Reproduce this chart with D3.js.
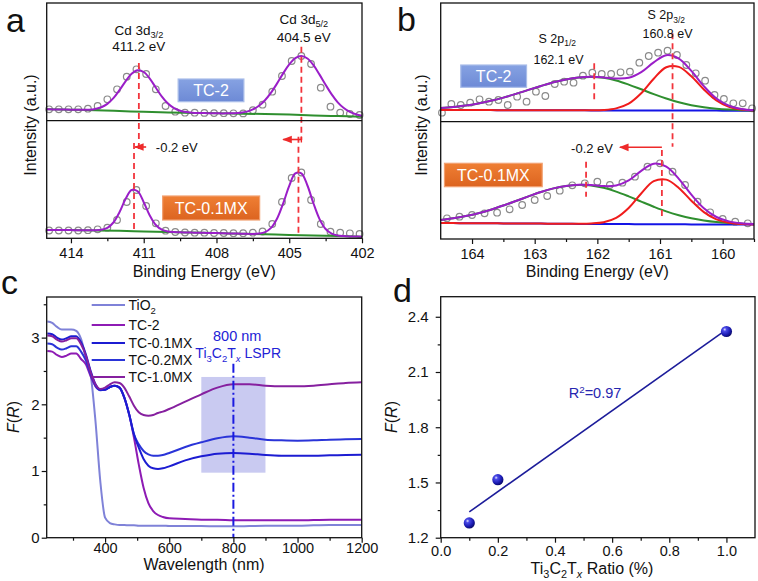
<!DOCTYPE html>
<html><head><meta charset="utf-8">
<script src="https://cdn.jsdelivr.net/npm/d3@7"></script>
<style>
body{margin:0;background:#fff}
svg{display:block}
text{font-family:"Liberation Sans",Arial,Helvetica,sans-serif}
</style>
</head><body>
<svg id="fig" width="758" height="581"></svg>
<script>
// ---------------- DATA ----------------
// Panel a : Cd 3d XPS (binding energy, eV ; intensity a.u.)
const aGridX = [415,414.75,414.5,414.25,414,413.75,413.5,413.25,413,412.75,412.5,412.25,412,411.75,411.5,411.25,411,410.75,410.5,410.25,410,409.75,409.5,409.25,409,408.75,408.5,408.25,408,407.75,407.5,407.25,407,406.75,406.5,406.25,406,405.75,405.5,405.25,405,404.75,404.5,404.25,404,403.75,403.5,403.25,403,402.75,402.5,402.25,402];
const aFitTC2 = [11.4,11.3,11.2,11.1,11.0,10.9,10.9,11.0,11.8,13.4,16.8,22.5,30.5,39.4,46.9,50.5,48.7,42.1,33.0,24.1,17.1,12.5,9.9,8.6,8.0,7.7,7.6,7.5,7.4,7.3,7.4,7.5,8.0,9.1,11.3,14.9,20.5,28.1,37.3,47.3,56.3,62.6,64.7,62.2,55.5,46.1,35.9,26.3,18.4,12.7,8.8,6.4,5.0];
const aFitMX = [8.0,8.0,8.0,7.9,7.9,7.8,7.8,7.7,7.7,8.2,10.1,15.5,25.8,38.9,48.0,46.7,35.8,22.6,13.0,8.3,6.5,6.0,5.7,5.55,5.4,5.3,5.15,5.0,4.9,4.75,4.6,4.45,4.3,4.2,4.05,4.5,5.9,10.1,19.5,34.6,52.2,64.6,64.7,52.5,34.5,18.9,9.0,4.4,2.5,1.9,1.6,1.45,1.3];
const aBgX = [415,414,413,412,411,410,409,408,407,406,405,404,403,402];
const aBgTC2 = [11.4,11.0,10.5,9.7,8.9,8.3,7.8,7.4,7.0,6.7,6.1,5.3,4.6,4.0];
const aBgMX = [8.0,7.9,7.6,7.2,6.6,6.0,5.4,4.9,4.3,3.8,3.1,2.5,1.9,1.3];
const aRawX = [414.9,414.5,414.1,413.7,413.3,412.9,412.5,412.1,411.7,411.3,410.9,410.5,410.1,409.7,409.3,408.9,408.5,408.1,407.7,407.3,406.9,406.5,406.1,405.7,405.3,404.9,404.5,404.1,403.7,403.3,402.9,402.5,402.1];
const aRawTC2 = [11.4,11.4,11.4,11.4,12.0,14.7,21.4,31.4,44.0,51.4,46.7,31.4,14.7,9.0,8.0,8.0,7.8,7.6,7.5,7.4,7.3,10.5,16.0,29.0,44.7,59.7,64.7,56.7,33.0,14.0,8.0,6.7,5.7];
const aRawMX = [7.5,7.5,7.5,7.5,7.8,8.7,10.3,18,36,48,32,14.7,7.3,6.0,5.5,5.3,5.3,5.0,5.0,4.8,4.8,5.3,6.5,14,36,60,65.5,38,14,6.3,5.3,4.7,4.0];
const aTicks = [414,411,408,405,402];
const aMinor = [412.5,409.5,406.5,403.5];

// Panel b : S 2p XPS
const bGridX = [164.5,164.3,164.1,163.9,163.7,163.5,163.3,163.1,162.9,162.7,162.5,162.3,162.1,161.9,161.7,161.5,161.3,161.1,160.9,160.7,160.5,160.3,160.1,159.9,159.7,159.5];
const bBgTC2 = [11.7,11.7,11.6,11.6,11.6,11.5,11.5,11.5,11.4,11.4,11.4,11.4,11.3,11.3,11.3,11.2,11.2,11.2,11.2,11.1,11.1,11.1,11.1,11.0,11.0,11.0];
const bP12TC2 = [1.9,3.0,4.5,6.6,9.3,12.6,16.3,20.3,24.3,28.0,30.9,32.8,33.5,32.6,29.9,25.9,21.2,16.4,12.0,8.3,5.4,3.3,1.9,1.1,0.5,0.3];
const bP32TC2 = [0,0,0,0,0,0,0,0,0,0,0,0,0.1,0.4,2.0,6.8,17.2,31.8,43.3,43.7,34.3,21.1,10.2,3.9,1.2,0.3];
const bBgMX = [16.0,15.9,15.8,15.7,15.7,15.6,15.5,15.4,15.4,15.3,15.2,15.1,15.1,15.0,14.9,14.9,14.8,14.8,14.7,14.7,14.6,14.6,14.5,14.5,14.5,14.5];
const bP12MX = [3.1,4.8,7.1,10.0,13.6,17.9,22.5,27.2,31.6,35.3,37.8,39.0,38.5,36.2,32.5,27.7,22.6,17.5,12.9,9.1,6.1,3.9,2.4,1.4,0.8,0.4];
const bP32MX = [0,0,0,0,0,0,0,0,0,0,0,0.1,0.4,1.7,6.2,16.1,30.7,43.0,44.7,36.4,23.7,12.3,5.1,1.7,0.4,0.1];
const bRawXTC2 = [164.48,164.33,164.18,164.03,163.88,163.73,163.58,163.43,163.28,163.13,162.98,162.83,162.68,162.53,162.38,162.23,162.08,161.93,161.78,161.63,161.48,161.33,161.18,161.03,160.88,160.73,160.58,160.43,160.28,160.13,159.98,159.83,159.68,159.53];
const bRawTC2 = [9.0,17.7,16.7,19.0,22.4,20.0,21.7,16.7,25.0,20.0,30.0,25.7,37.7,40.0,39.0,46.0,49.0,47.7,47.7,49.4,50.0,59.0,65.7,69.0,71.0,66.7,56.7,48.4,41.0,26.7,22.7,18.4,18.4,13.4];
const bRawXMX = [164.4,164.2,164.0,163.8,163.6,163.4,163.2,163.0,162.8,162.6,162.4,162.2,162.0,161.8,161.6,161.4,161.2,161.0,160.8,160.6,160.4,160.2,160.0,159.8,159.6];
const bRawMX = [20.7,22.3,24,25.7,26.3,29.7,34,39,43,48.3,53.7,55.7,57.3,54,56.3,62.3,72.3,75.7,67.3,54,37.3,26.7,20,17.3,15.7];
const bTicks = [164,163,162,161,160];
const bMinor = [163.5,162.5,161.5,160.5,159.5];

// Panel c : Kubelka-Munk F(R) vs wavelength
const cWave = [220,235,250,265,280,295,310,325,340,355,370,385,400,415,430,445,460,475,490,505,520,535,550,565,580,600,650,700,750,800,850,900,950,1000,1050,1100,1150,1200];
const cTiO2 = [3.24,3.22,3.16,3.12,3.12,3.12,3.10,2.98,2.70,2.45,1.75,0.85,0.30,0.22,0.20,0.19,0.19,0.185,0.185,0.18,0.18,0.18,0.18,0.18,0.18,0.175,0.175,0.175,0.17,0.17,0.175,0.18,0.18,0.18,0.185,0.19,0.19,0.19];
const cTC2 = [2.80,2.79,2.74,2.71,2.73,2.76,2.76,2.68,2.60,2.42,2.27,2.22,2.22,2.26,2.28,2.25,2.10,1.85,1.50,1.10,0.75,0.52,0.40,0.34,0.31,0.29,0.28,0.27,0.27,0.26,0.26,0.26,0.26,0.26,0.265,0.27,0.27,0.27];
const cTC01 = [3.06,3.05,3.00,2.97,2.99,3.02,3.02,2.93,2.75,2.50,2.30,2.22,2.22,2.26,2.28,2.25,2.10,1.85,1.55,1.35,1.18,1.08,1.04,1.03,1.04,1.07,1.16,1.22,1.26,1.27,1.26,1.24,1.23,1.23,1.23,1.235,1.24,1.245];
const cTC02 = [2.91,2.90,2.85,2.82,2.84,2.87,2.87,2.79,2.66,2.45,2.28,2.21,2.22,2.26,2.28,2.25,2.10,1.85,1.55,1.40,1.30,1.25,1.23,1.23,1.24,1.27,1.36,1.43,1.49,1.52,1.50,1.47,1.46,1.455,1.46,1.47,1.475,1.48];
const cTC10 = [3.03,3.02,2.97,2.94,2.96,2.99,2.99,2.90,2.73,2.48,2.30,2.23,2.25,2.30,2.33,2.32,2.25,2.12,1.98,1.88,1.84,1.83,1.84,1.87,1.89,1.93,2.04,2.15,2.25,2.30,2.30,2.28,2.27,2.27,2.28,2.30,2.32,2.33];
const cNames = ["TiO2","TC-2","TC-0.1MX","TC-0.2MX","TC-1.0MX"];
const cColors = ["#7f82d8","#8e1bb4","#1c1cd2","#2a34d8","#86209f"];
const cXTicks = [400,600,800,1000,1200];
const cXMinor = [300,500,700,900,1100];
const cYTicks = [0,1,2,3];
const cYMinor = [0.5,1.5,2.5,3.5];
const cLSPR = [700,900];      // highlighted band (nm)
const cLSPRF = [0.975,2.41];  // band F(R) range
const cLSPRpeak = 800;

// Panel d : F(R) at 800 nm vs Ti3C2Tx ratio
const dRatio = [0.1,0.2,1.0];
const dFR = [1.28,1.515,2.32];
const dFitX = [0.1,1.0];
const dFitY = [1.34,2.33];
const dXTicks = [0,0.2,0.4,0.6,0.8,1.0];
const dXMinor = [0.1,0.3,0.5,0.7,0.9];
const dYTicks = [1.2,1.5,1.8,2.1,2.4];
const dYMinor = [1.35,1.65,1.95,2.25];

// ---------------- HELPERS ----------------
const svg = d3.select("#fig");
const defs = svg.append("defs");

function rich(sel, x, y, parts, fs, anchor, fill){
  const t = sel.append("text").attr("x",x).attr("y",y).attr("font-size",fs)
    .attr("text-anchor",anchor||"start").attr("fill",fill||"#111");
  let shift = 0;
  parts.forEach(p=>{
    const s = Array.isArray(p)?p[0]:p, k = Array.isArray(p)?p[1]:"";
    const ts = t.append("tspan").text(s);
    let target=0, size=fs;
    if(k==="sub"||k==="subi"){target=fs*0.28; size=fs*0.68;}
    if(k==="sup"){target=-fs*0.38; size=fs*0.68;}
    ts.attr("dy",(target-shift).toFixed(2)).attr("font-size",size);
    if(k==="i"||k==="subi") ts.attr("font-style","italic");
    shift=target;
  });
  return t;
}
function xAxis(g, scale, y, majors, minors, fmt, pad, fs){
  const ax = g.append("g").attr("transform",`translate(0,${y})`)
    .call(d3.axisBottom(scale).tickValues(majors).tickSize(5).tickPadding(pad).tickFormat(fmt));
  ax.select(".domain").remove();
  ax.selectAll("line").attr("stroke","#111").attr("stroke-width",1.2);
  ax.selectAll("text").attr("font-size",fs).attr("fill","#111").attr("font-family",null);
  const mi = g.append("g").attr("transform",`translate(0,${y})`)
    .call(d3.axisBottom(scale).tickValues(minors).tickSize(3).tickFormat(""));
  mi.select(".domain").remove();
  mi.selectAll("line").attr("stroke","#111").attr("stroke-width",1.2);
}
function yAxis(g, scale, x, majors, minors, fmt, pad, fs){
  const ax = g.append("g").attr("transform",`translate(${x},0)`)
    .call(d3.axisLeft(scale).tickValues(majors).tickSize(5).tickPadding(pad).tickFormat(fmt));
  ax.select(".domain").remove();
  ax.selectAll("line").attr("stroke","#111").attr("stroke-width",1.2);
  ax.selectAll("text").attr("font-size",fs).attr("fill","#111").attr("font-family",null);
  const mi = g.append("g").attr("transform",`translate(${x},0)`)
    .call(d3.axisLeft(scale).tickValues(minors).tickSize(3).tickFormat(""));
  mi.select(".domain").remove();
  mi.selectAll("line").attr("stroke","#111").attr("stroke-width",1.2);
}
function frame(g, x0, x1, y0, y1){
  g.append("rect").attr("x",x0).attr("y",y0).attr("width",x1-x0).attr("height",y1-y0)
    .attr("fill","none").attr("stroke","#111").attr("stroke-width",1.3);
}
function vtitle(g, x, y, parts, fs){
  const t = rich(g, 0, 0, parts, fs, "middle", "#111");
  t.attr("transform",`translate(${x},${y}) rotate(-90)`);
}
function panelLabel(x,y,s){
  svg.append("text").attr("x",x).attr("y",y).attr("font-size",34).attr("fill","#111").text(s);
}
function labelBox(g, x0, x1, y0, y1, text, grad, stroke){
  g.append("rect").attr("x",x0).attr("y",y1).attr("width",x1-x0).attr("height",y0-y1)
    .attr("fill",`url(#${grad})`).attr("stroke",stroke).attr("stroke-width",1.2);
  g.append("text").attr("x",(x0+x1)/2).attr("y",(y0+y1)/2+5.5).attr("text-anchor","middle")
    .attr("font-size",16).attr("fill","#fff").text(text);
}
// gradients
const gB = defs.append("linearGradient").attr("id","boxBlue").attr("x1",0).attr("y1",0).attr("x2",0).attr("y2",1);
gB.append("stop").attr("offset","0%").attr("stop-color","#86a2e2");
gB.append("stop").attr("offset","100%").attr("stop-color","#6d8ad6");
const gO = defs.append("linearGradient").attr("id","boxOrange").attr("x1",0).attr("y1",0).attr("x2",0).attr("y2",1);
gO.append("stop").attr("offset","0%").attr("stop-color","#ef7f34");
gO.append("stop").attr("offset","100%").attr("stop-color","#dc6420");
const gBall = defs.append("radialGradient").attr("id","ball").attr("cx","35%").attr("cy","32%").attr("r","70%");
gBall.append("stop").attr("offset","0%").attr("stop-color","#e8e8ff");
gBall.append("stop").attr("offset","22%").attr("stop-color","#4a4ae8");
gBall.append("stop").attr("offset","70%").attr("stop-color","#1a1ab0");
gBall.append("stop").attr("offset","100%").attr("stop-color","#0a0a6a");
defs.append("marker").attr("id","arrR").attr("viewBox","0 0 10 10").attr("refX",9).attr("refY",5)
  .attr("markerWidth",6).attr("markerHeight",6).attr("orient","auto")
  .append("path").attr("d","M0,1 L10,5 L0,9 z").attr("fill","#ee2a2a");

const PURPLE="#9a1ec8", GREEN="#2f8f2f", RED="#f01c1c", BLUE="#1414e6", DASH="#f2343c", CIRC="#8a8a8a";

// ---------------- PANEL A ----------------
const ga = svg.append("g");
const ax = d3.scaleLinear().domain([415,402]).range([46.7,362]);
const ayU = d3.scaleLinear().domain([0,117.7]).range([120.7,3]);
const ayL = d3.scaleLinear().domain([0,117.3]).range([238,120.7]);

function xpsPanel(g, xs, ys, rawX, rawY, lines){
  g.append("g").selectAll("circle").data(rawX).join("circle")
    .attr("cx",d=>xs(d)).attr("cy",(d,i)=>ys(rawY[i])).attr("r",3.3)
    .attr("fill","none").attr("stroke",CIRC).attr("stroke-width",1.2);
  lines.forEach(L=>{
    const ln = d3.line().x((d,i)=>xs(L.x[i])).y(d=>ys(d)).curve(d3.curveCatmullRom.alpha(0.5));
    g.append("path").attr("d",ln(L.y)).attr("fill","none").attr("stroke",L.c).attr("stroke-width",L.w||2);
  });
}
xpsPanel(ga, ax, ayU, aRawX, aRawTC2, [
  {x:aBgX, y:aBgTC2, c:GREEN},
  {x:aGridX, y:aFitTC2, c:PURPLE}
]);
xpsPanel(ga, ax, ayL, aRawX, aRawMX, [
  {x:aBgX, y:aBgMX, c:GREEN},
  {x:aGridX, y:aFitMX, c:PURPLE}
]);
// dashed peak markers
function dashV(g, x, y0, y1){
  g.append("line").attr("x1",x).attr("x2",x).attr("y1",y0).attr("y2",y1)
    .attr("stroke",DASH).attr("stroke-width",1.8).attr("stroke-dasharray","6,4");
}
dashV(ga, ax(411.2), ayU(57.7), ayL(89));
dashV(ga, ax(411.4), ayL(95), ayL(5));
dashV(ga, ax(404.5), ayU(74), ayL(98));
dashV(ga, ax(404.62), ayL(101.3), ayL(3));
ga.append("line").attr("x1",ax(410.9)).attr("x2",ax(411.4)+1).attr("y1",ayL(91)).attr("y2",ayL(91))
  .attr("stroke","#ee2a2a").attr("stroke-width",1.6).attr("marker-end","url(#arrR)");
ga.append("line").attr("x1",ax(404.5)).attr("x2",ax(405.25)).attr("y1",ayL(98.5)).attr("y2",ayL(98.5))
  .attr("stroke","#ee2a2a").attr("stroke-width",1.6).attr("marker-end","url(#arrR)");
ga.append("line").attr("x1",ax(404.5)).attr("x2",ax(404.5)).attr("y1",ayL(95.5)).attr("y2",ayL(101.5))
  .attr("stroke","#ee2a2a").attr("stroke-width",1.4);
rich(ga, ax(410.5), ayL(86.5), ["-0.2 eV"], 13, "start", "#111");
rich(ga, ax(411.2), ayU(86.2), ["Cd 3d",["3/2","sub"]], 13.5, "middle", "#111");
rich(ga, ax(411.2), ayU(69.7), ["411.2 eV"], 13.5, "middle", "#111");
rich(ga, ax(404.4), ayU(97.2), ["Cd 3d",["5/2","sub"]], 13.5, "middle", "#111");
rich(ga, ax(404.4), ayU(78.5), ["404.5 eV"], 13.5, "middle", "#111");
labelBox(ga, ax(409.58), ax(406.87), ayU(19), ayU(41.7), "TC-2", "boxBlue", "#a9bde9");
labelBox(ga, ax(410.22), ax(406.22), ayL(18), ayL(42), "TC-0.1MX", "boxOrange", "#f2a070");
ga.append("line").attr("x1",46.7).attr("x2",362).attr("y1",ayU(0)).attr("y2",ayU(0)).attr("stroke","#111").attr("stroke-width",1.3);
frame(ga, 46.7, 362, 3, 238.3);
xAxis(ga, ax, 238.3, aTicks, aMinor, d3.format("d"), 4.6, 14.5);
rich(ga, (46.7+362)/2, 276.5, ["Binding Energy (eV)"], 16, "middle", "#111");
vtitle(ga, 36, 125, ["Intensity (a.u.)"], 16);
panelLabel(6, 31.5, "a");

// ---------------- PANEL B ----------------
const gb = svg.append("g");
const bx = d3.scaleLinear().domain([164.5,159.5]).range([440.7,754]);
const byU = d3.scaleLinear().domain([0,118.7]).range([121.7,3]);
const byL = d3.scaleLinear().domain([0,117.3]).range([239,121.7]);
function sum(){ const arrs=[...arguments]; return arrs[0].map((v,i)=>arrs.reduce((s,a)=>s+a[i],0)); }
xpsPanel(gb, bx, byU, bRawXTC2, bRawTC2, [
  {x:bGridX, y:bBgTC2, c:BLUE},
  {x:bGridX, y:sum(bBgTC2,bP12TC2), c:GREEN},
  {x:bGridX, y:sum(bBgTC2,bP32TC2), c:RED},
  {x:bGridX, y:sum(bBgTC2,bP12TC2,bP32TC2), c:PURPLE}
]);
xpsPanel(gb, bx, byL, bRawXMX, bRawMX, [
  {x:bGridX, y:bBgMX, c:BLUE},
  {x:bGridX, y:sum(bBgMX,bP12MX), c:GREEN},
  {x:bGridX, y:sum(bBgMX,bP32MX), c:RED},
  {x:bGridX, y:sum(bBgMX,bP12MX,bP32MX), c:PURPLE}
]);
dashV(gb, bx(162.05), byU(58.4), byU(21.7));
dashV(gb, bx(160.8), byU(88.4), byL(92.3));
dashV(gb, bx(162.18), byL(77.3), byL(42.3));
dashV(gb, bx(160.97), byL(89), byL(22.3));
gb.append("line").attr("x1",bx(160.97)).attr("x2",bx(161.64)).attr("y1",byL(91.7)).attr("y2",byL(91.7))
  .attr("stroke","#ee2a2a").attr("stroke-width",1.6).attr("marker-end","url(#arrR)");
rich(gb, bx(161.75), byL(86.5), ["-0.2 eV"], 13, "end", "#111");
rich(gb, bx(160.9), byU(102.5), ["S 2p",["3/2","sub"]], 12.5, "middle", "#111");
rich(gb, bx(160.88), byU(84.2), ["160.8 eV"], 12.5, "middle", "#111");
rich(gb, bx(162.64), byU(79.2), ["S 2p",["1/2","sub"]], 12.5, "middle", "#111");
rich(gb, bx(162.62), byU(58.2), ["162.1 eV"], 12.5, "middle", "#111");
labelBox(gb, bx(164.18), bx(163.13), byU(34.4), byU(56.7), "TC-2", "boxBlue", "#a9bde9");
labelBox(gb, bx(164.44), bx(162.88), byL(52.3), byL(75.7), "TC-0.1MX", "boxOrange", "#f2a070");
gb.append("line").attr("x1",440.7).attr("x2",754).attr("y1",byU(0)).attr("y2",byU(0)).attr("stroke","#111").attr("stroke-width",1.3);
frame(gb, 440.7, 754, 3, 239);
xAxis(gb, bx, 239, bTicks, bMinor, d3.format("d"), 4.6, 14.5);
rich(gb, (440.7+754)/2, 277, ["Binding Energy (eV)"], 16, "middle", "#111");
vtitle(gb, 427, 125, ["Intensity (a.u.)"], 16);
panelLabel(397, 31, "b");

// ---------------- PANEL C ----------------
const gc = svg.append("g");
const cx = d3.scaleLinear().domain([218,1200]).range([46.7,361.7]);
const cy = d3.scaleLinear().domain([0,3.609]).range([537.7,297]);
gc.append("rect").attr("x",cx(cLSPR[0])).attr("y",cy(cLSPRF[1])).attr("width",cx(cLSPR[1])-cx(cLSPR[0]))
  .attr("height",cy(cLSPRF[0])-cy(cLSPRF[1])).attr("fill","#c9caf1");
const cSeries = [cTiO2,cTC2,cTC01,cTC02,cTC10];
const cLine = d3.line().x((d,i)=>cx(cWave[i])).y(d=>cy(d)).curve(d3.curveMonotoneX);
const cOrder = [0,1,3,2,4];
cOrder.forEach(k=>{
  gc.append("path").attr("d",cLine(cSeries[k])).attr("fill","none").attr("stroke",cColors[k]).attr("stroke-width",2);
});
gc.append("line").attr("x1",cx(cLSPRpeak)).attr("x2",cx(cLSPRpeak)).attr("y1",cy(2.61)).attr("y2",cy(0))
  .attr("stroke","#1a1ae0").attr("stroke-width",2).attr("stroke-dasharray","9,3,2,3");
rich(gc, cx(812), cy(2.95), ["800 nm"], 14.5, "middle", "#2222d6");
rich(gc, cx(815), cy(2.69), ["Ti",["3","sub"],"C",["2","sub"],"T",["x","subi"]," LSPR"], 14, "middle", "#2222d6");
// legend
const legY = [305,325,343,360,377];
cNames.forEach((n,i)=>{
  gc.append("line").attr("x1",91.7).attr("x2",125).attr("y1",legY[i]).attr("y2",legY[i])
    .attr("stroke",cColors[i]).attr("stroke-width",2);
  const parts = n==="TiO2" ? ["TiO",["2","sub"]] : [n];
  rich(gc, 128.5, legY[i]+5, parts, 14, "start", "#111");
});
frame(gc, 46.7, 361.7, 297, 537.7);
xAxis(gc, cx, 537.7, cXTicks, cXMinor, d3.format("d"), 0, 14.5);
yAxis(gc, cy, 46.7, cYTicks, cYMinor, d3.format("d"), 2, 15);
rich(gc, 204, 570, ["Wavelength (nm)"], 16, "middle", "#111");
vtitle(gc, 19, 417, [["F","i"],"(",["R","i"],")"], 16);
panelLabel(1, 294, "c");

// ---------------- PANEL D ----------------
const gd = svg.append("g");
const dx = d3.scaleLinear().domain([0,1.1]).range([440.7,755]);
const dy = d3.scaleLinear().domain([1.2,2.509]).range([537.7,296.7]);
gd.append("line").attr("x1",dx(dFitX[0])).attr("y1",dy(dFitY[0])).attr("x2",dx(dFitX[1])).attr("y2",dy(dFitY[1]))
  .attr("stroke","#1c1c9a").attr("stroke-width",1.6);
gd.selectAll("circle.pt").data(dRatio).join("circle").attr("class","pt")
  .attr("cx",d=>dx(d)).attr("cy",(d,i)=>dy(dFR[i])).attr("r",5.6).attr("fill","url(#ball)");
rich(gd, dx(0.54), dy(1.958), ["R",["2","sup"],"=0.97"], 14.5, "middle", "#2626b0");
frame(gd, 440.7, 755, 296.7, 537.7);
xAxis(gd, dx, 537.7, dXTicks, dXMinor, d3.format(".1f"), 3, 14.5);
yAxis(gd, dy, 440.7, dYTicks, dYMinor, d3.format(".1f"), 7, 15);
rich(gd, 592, 573.5, ["Ti",["3","sub"],"C",["2","sub"],"T",["x","subi"]," Ratio (%)"], 16, "middle", "#111");
vtitle(gd, 397, 417, [["F","i"],"(",["R","i"],")"], 16);
panelLabel(393, 302, "d");
</script>
</body></html>
